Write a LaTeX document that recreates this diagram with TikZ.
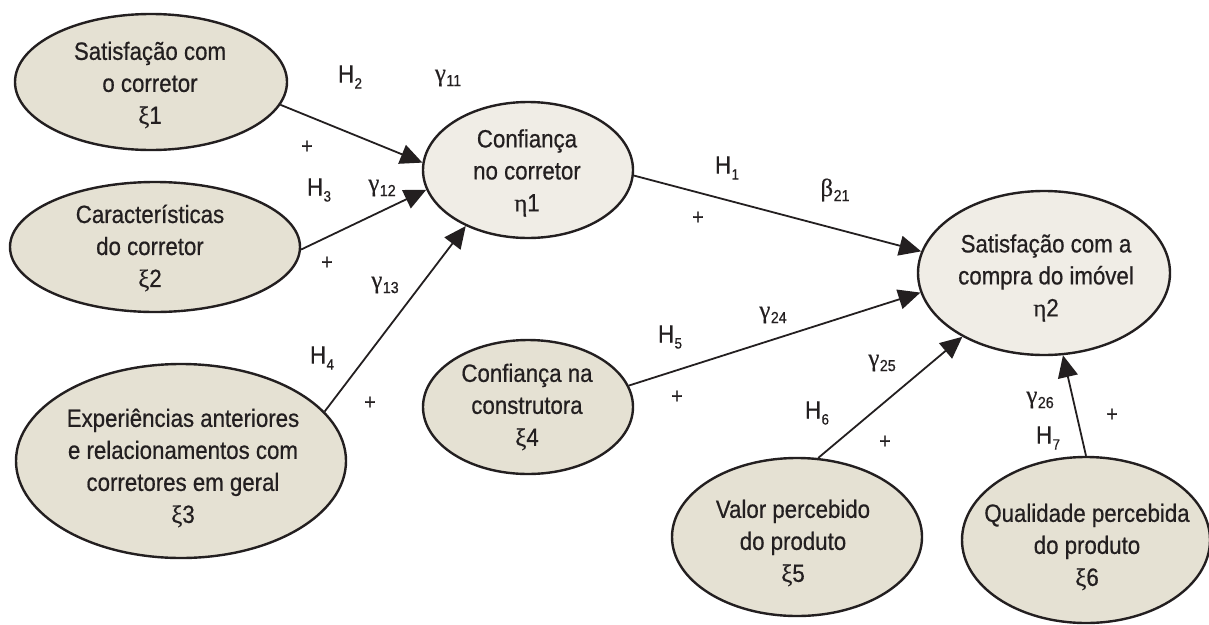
\documentclass[tikz,border=0pt]{standalone}
\usepackage{fontspec}
\setmainfont[FakeStretch=0.89,FakeBold=0.6]{Liberation Sans}
\newfontfamily\gr[FakeBold=0.4]{Liberation Serif}
\usetikzlibrary{shapes.geometric,arrows.meta}
\definecolor{exo}{HTML}{E5E1D3}
\definecolor{endo}{HTML}{F0EDE6}
\definecolor{ink}{HTML}{231F20}
\newcommand{\mkH}[1]{H\kern0.5pt\raisebox{-6pt}{\fontsize{15}{15}\selectfont #1}}
\newcommand{\mkG}[2]{{\gr #1}\kern0.5pt\raisebox{-5pt}{\fontsize{16}{16}\selectfont #2}}
\begin{document}
\begin{tikzpicture}[x=1pt,y=-1pt,
  lv/.style={ellipse,draw=ink,line width=2.4pt,inner sep=0pt},
  exov/.style={lv,fill=exo},
  endov/.style={lv,fill=endo},
  txt/.style={align=center,text=ink,font=\fontsize{25}{32}\selectfont,inner sep=0pt},
  lbl/.style={text=ink,font=\fontsize{25}{30}\selectfont,inner sep=0pt},
  pls/.style={text=ink,font=\fontsize{22}{22}\selectfont,inner sep=0pt},
  pth/.style={draw=ink,line width=1.8pt,-{Triangle[length=22pt,width=20pt]}}]
\useasboundingbox (0,0) rectangle (1209,624);
% latent variables
\node[exov,minimum width=272pt,minimum height=136pt] (x1) at (151,82) {};
\node[exov,minimum width=290pt,minimum height=130pt] (x2) at (155,247) {};
\node[exov,minimum width=330pt,minimum height=194pt] (x3) at (181,461) {};
\node[endov,minimum width=210pt,minimum height=136pt] (e1) at (528,170) {};
\node[exov,minimum width=210pt,minimum height=134pt] (x4) at (528,407) {};
\node[endov,minimum width=252pt,minimum height=164pt] (e2) at (1044,273) {};
\node[exov,minimum width=250pt,minimum height=158pt] (x5) at (797,537) {};
\node[exov,minimum width=248pt,minimum height=166pt] (x6) at (1086,540) {};
% texts
\node[txt] (x1t) at (150,85) {Satisfação com\\o corretor\\{\gr ξ}1};
\node[txt] (x2t) at (150,248) {Características\\do corretor\\{\gr ξ}2};
\node[txt] (x3t) at (183,468) {Experiências anteriores\\e relacionamentos com\\corretores em geral\\{\gr ξ}3};
\node[txt] (e1t) at (527,173) {Confiança\\no corretor\\{\gr η}1};
\node[txt] (x4t) at (527,407) {Confiança na\\construtora\\{\gr ξ}4};
\node[txt] (e2t) at (1046,278) {Satisfação com a\\compra do imóvel\\{\gr η}2};
\node[txt] (x5t) at (793,543) {Valor percebido\\do produto\\{\gr ξ}5};
\node[txt] (x6t) at (1087,547) {Qualidade percebida\\do produto\\{\gr ξ}6};
% paths
\draw[pth] (x1.-10) -- (e1.176);
\draw[pth] (x2.-1) -- (e1.191.8);
\draw[pth] (x3.19.8) -- (e1.222);
\draw[pth] (e1.-3.9) -- (e2.170.8);
\draw[pth] (x4.12.7) -- (e2.189.7);
\draw[pth] (x5.75.8) -- (e2.218.4);
\draw[pth] (x6.90.7) -- (e2.283.7);
% labels
\node[lbl] (h2) at (350,77) {\mkH{2}};
\node[lbl] (g11) at (448,78) {\mkG{γ}{11}};
\node[pls] (p1) at (307,147) {+};
\node[lbl] (h3) at (319,190) {\mkH{3}};
\node[lbl] (g12) at (382,188) {\mkG{γ}{12}};
\node[pls] (p2) at (327,263) {+};
\node[lbl] (g13) at (385,285) {\mkG{γ}{13}};
\node[lbl] (h4) at (322,358) {\mkH{4}};
\node[pls] (p3) at (370,403) {+};
\node[lbl] (h1) at (727,168) {\mkH{1}};
\node[lbl] (b21) at (835,190) {\mkG{β}{21}};
\node[pls] (p4) at (698,218) {+};
\node[lbl] (h5) at (670,337) {\mkH{5}};
\node[lbl] (g24) at (773,315) {\mkG{γ}{24}};
\node[pls] (p5) at (677,397) {+};
\node[lbl] (h6) at (817,413) {\mkH{6}};
\node[lbl] (g25) at (882,363) {\mkG{γ}{25}};
\node[pls] (p6) at (885,442) {+};
\node[lbl] (g26) at (1040,400) {\mkG{γ}{26}};
\node[lbl] (h7) at (1048,438) {\mkH{7}};
\node[pls] (p7) at (1112,415) {+};
\end{tikzpicture}
\end{document}
